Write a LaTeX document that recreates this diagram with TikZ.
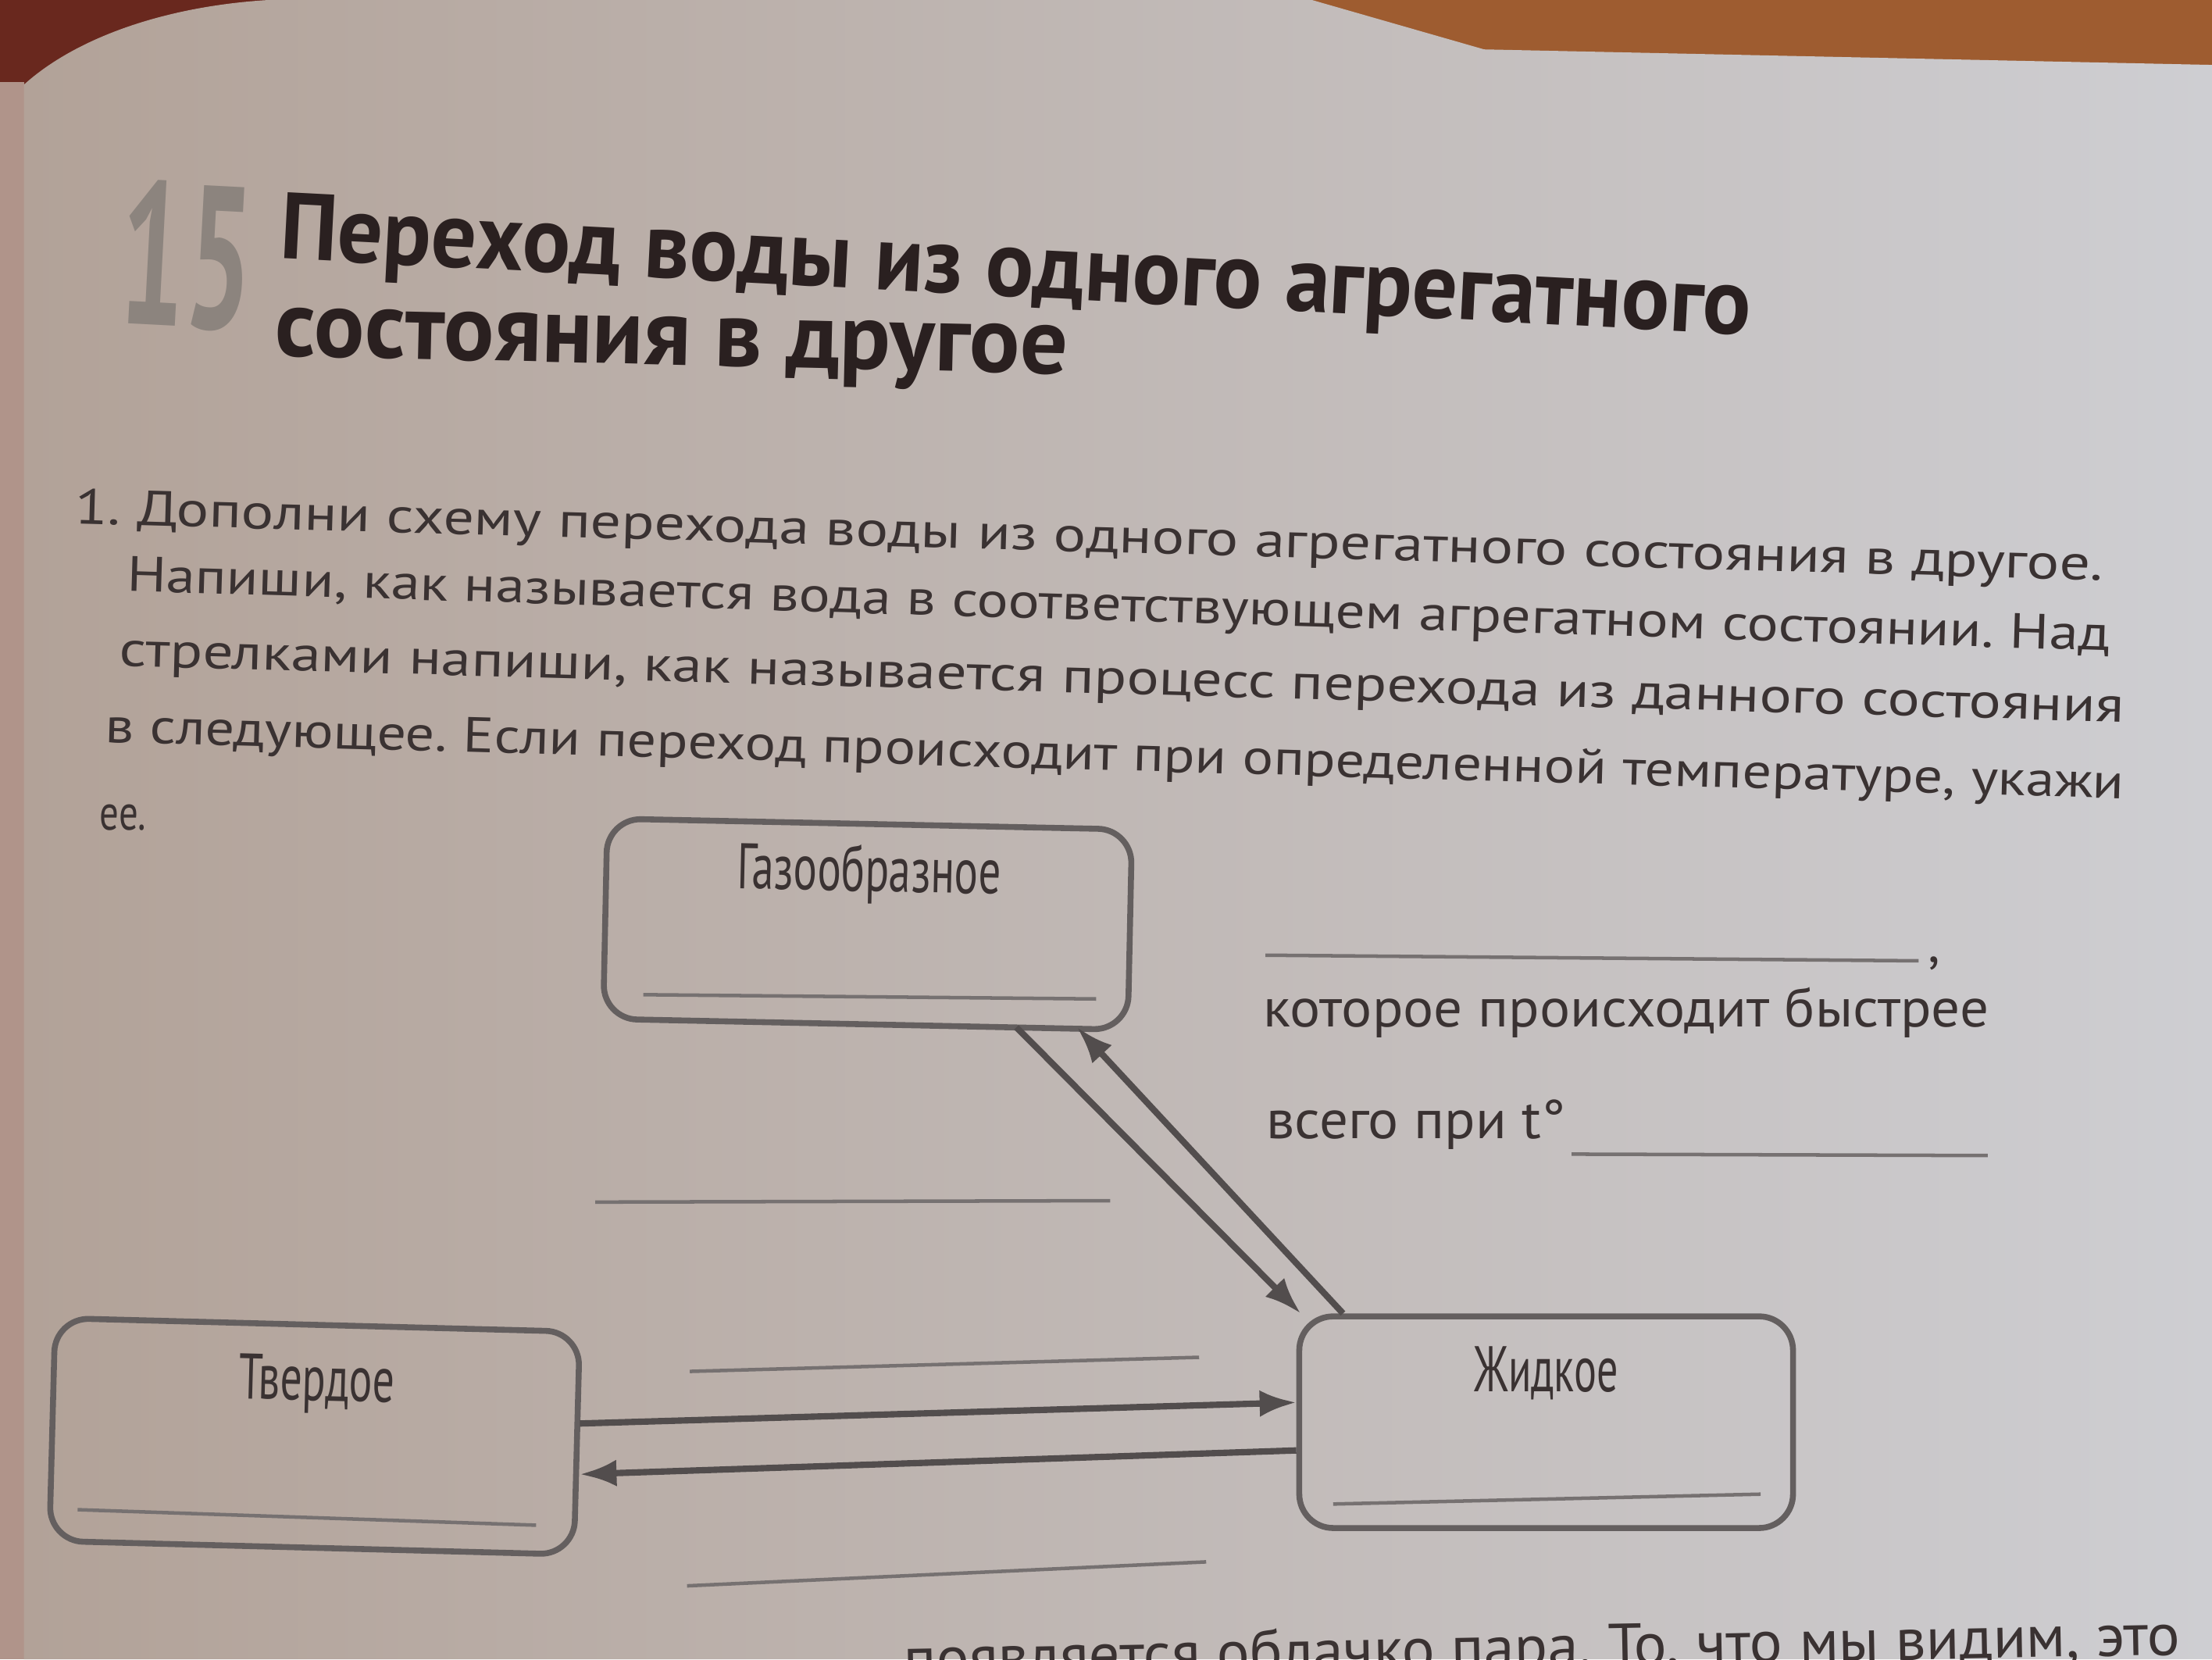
\documentclass[tikz,border=0pt]{standalone}
\usepackage{fontspec}
\setmainfont{PT Sans}
\usepackage{graphicx}
\usetikzlibrary{positioning, arrows.meta}

\definecolor{ink}{RGB}{58,50,50}
\definecolor{titleink}{RGB}{42,32,32}
\definecolor{numgrey}{RGB}{140,132,126}
\definecolor{boxgrey}{RGB}{100,95,95}
\definecolor{arrowgrey}{RGB}{82,77,77}
\definecolor{linegrey}{RGB}{118,113,113}
\definecolor{wood}{RGB}{158,92,48}
\definecolor{darkwood}{RGB}{105,40,30}
\definecolor{pageL}{RGB}{178,162,152}
\definecolor{pageM}{RGB}{193,191,193}
\definecolor{pageR}{RGB}{206,206,210}
\definecolor{leftpage}{RGB}{176,148,138}

% squeeze a line of text to a given width, keep its height
\newcommand{\fitw}[2]{\resizebox{#1}{\height}{#2}}

% printed lines run slightly downhill in the photo: set them word by word
% measured outside the picture: #1 name, #2 width, #3 drop, #4 font, #5 words
\newlength{\wlen}
\newcommand{\prepline}[5]{%
  \gdef\wsum{0}\gdef\wnum{0}%
  \foreach \w in {#5}{%
    \settowidth{\wlen}{#4\w}%
    \pgfmathsetmacro{\tmp}{\wsum+\wlen}\xdef\wsum{\tmp}%
    \pgfmathsetmacro{\tmp}{\wnum+1}\xdef\wnum{\tmp}}%
  \settowidth{\wlen}{#4\ }\xdef\wsp{\the\wlen}%
  \pgfmathsetmacro{\tmp}{#2/(\wsum+(\wnum-1)*\wsp)}\xdef\wfac{\tmp}%
  \expandafter\xdef\csname #1@fac\endcsname{\wfac}%
  \pgfmathsetmacro{\tmp}{-atan(#3)}%
  \expandafter\xdef\csname #1@rot\endcsname{\tmp}%
  \gdef\woff{0}\gdef\witems{}%
  \foreach \w in {#5}{%
    \settowidth{\wlen}{#4\w}%
    \pgfmathsetmacro{\wy}{-(\woff)*(#3)}%
    \ifx\witems\empty\xdef\witems{\woff/\wy/{\w}}\else\xdef\witems{\witems,\woff/\wy/{\w}}\fi
    \pgfmathsetmacro{\tmp}{\woff+(\wlen+\wsp)*\wfac}\xdef\woff{\tmp}}%
  \expandafter\xdef\csname #1@items\endcsname{\witems}%
}
% drawn in the picture: #1 name, #2 start, #3 font, #4 keys
\newcommand{\drawline}[4]{%
  \coordinate (#1) at #2;
  \edef\witems{\csname #1@items\endcsname}%
  \edef\wfac{\csname #1@fac\endcsname}%
  \edef\wrot{\csname #1@rot\endcsname}%
  \foreach \x/\y/\w [count=\i] in \witems {%
    \node[txt, font=#3, rotate=\wrot, #4] (#1-\i) at ([xshift=\x pt, yshift=\y pt]#1) {\scalebox{\wfac}[1]{\w}};}%
}

\tikzset{
  statebox/.style={draw=boxgrey, line width=0.42mm, rounded corners=2.4mm, minimum width=37.2mm, inner sep=0pt},
  statename/.style={text=ink, font=\fontsize{13}{15}\selectfont, inner sep=0pt},
  txt/.style={anchor=base west, inner sep=0pt, text=ink, font=\fontsize{10}{12}\selectfont},
  blank/.style={draw=linegrey, line width=0.25mm},
  trans/.style={draw=arrowgrey, line width=0.45mm, -{Latex[length=2.6mm, width=1.9mm]}},
}

\begin{document}
\prepline{title1}{104.3mm}{0.052}{\fontsize{19}{22}\bfseries}{Переход,воды,из,одного,агрегатного}%
\prepline{title2}{56.2mm}{0.023}{\fontsize{19}{22}\bfseries}{состояния,в,другое}%
\prepline{task1}{143.8mm}{0.028}{\fontsize{10}{12}\selectfont}{1.,Дополни,схему,перехода,воды,из,одного,агрегатного,состояния,в,другое.}%
\prepline{task2}{140.6mm}{0.030}{\fontsize{10}{12}\selectfont}{{Напиши,},как,называется,вода,в,соответствующем,агрегатном,состоянии.,Над}%
\prepline{task3}{142.1mm}{0.028}{\fontsize{10}{12}\selectfont}{стрелками,{напиши,},как,называется,процесс,перехода,из,данного,состояния}%
\prepline{task4}{143.1mm}{0.028}{\fontsize{10}{12}\selectfont}{в,следующее.,Если,переход,происходит,при,определенной,{температуре,},укажи}%
\prepline{next}{90.5mm}{-0.019}{\fontsize{12}{14}\selectfont}{появляется,облачко,{пара.},{То,},что,мы,{видим,},это}%
\begin{tikzpicture}[x=0.1mm, y=-0.1mm]
\useasboundingbox (0,0) rectangle (1568,1176);
\clip (0,0) rectangle (1568,1176);

% table and pages
\fill[wood] (0,0) rectangle (1568,1176);
\fill[darkwood] (0,0) -- (200,0) -- (20,60) -- (0,60) -- cycle;
\fill[leftpage] (0,58) rectangle (17,1176);
\shade[left color=pageL, middle color=pageM, right color=pageR]
  (17,60) .. controls (50,30) and (110,5) .. (190,0) -- (930,0) -- (1052,35) -- (1568,46) -- (1568,1176) -- (17,1176) -- cycle;

% heading
\node[txt, text=numgrey, font=\fontsize{41}{44}\bfseries, rotate=-3] (num) at (82,229) {\fitw{9.4mm}{15}};
\drawline{title1}{(197,183)}{\fontsize{19}{22}\bfseries}{text=titleink}
\drawline{title2}{(194,252)}{\fontsize{19}{22}\bfseries}{text=titleink}

% task text
\drawline{task1}{(52,371)}{\fontsize{10}{12}\selectfont}{}
\drawline{task2}{(89,419)}{\fontsize{10}{12}\selectfont}{}
\drawline{task3}{(84,472)}{\fontsize{10}{12}\selectfont}{}
\drawline{task4}{(74,526)}{\fontsize{10}{12}\selectfont}{}
\node[txt] (task5) at (70,588) {\fitw{3.3mm}{ее.}};

% state boxes
\node[statebox, minimum height=14.2mm, rotate=-1.2] (gas) at (615,655) {};
\node[statebox, minimum height=15.8mm, rotate=-1.5] (solid) at (223,1018) {};
\node[statebox, minimum width=35mm, minimum height=15mm] (liquid) at (1096,1008) {};

\node[statename, rotate=-1.2, below=1.6mm of gas.north] (gastxt) {\fitw{18.7mm}{Газообразное}};
\node[statename, rotate=-1.5, below=2.3mm of solid.north] (solidtxt) {\fitw{11mm}{Твердое}};
\node[statename, below=2.3mm of liquid.north] (liquidtxt) {\fitw{10.2mm}{Жидкое}};

% answer lines in the boxes
\draw[blank] (456,705) -- (777,708);
\draw[blank] (55,1070) -- (380,1081);
\draw[blank] (945,1066) -- (1248,1059);

% transitions
\draw[trans] ([xshift=10.7mm]gas.south) -- ([xshift=-17.4mm]liquid.north);
\draw[trans] ([xshift=-14.4mm]liquid.north) -- ([xshift=15mm]gas.south);
\draw[trans] ([yshift=1.4mm]solid.east) -- ([yshift=1.4mm]liquid.west);
\draw[trans] ([yshift=-2mm]liquid.west) -- ([yshift=-2.2mm]solid.east);

% answer lines over the arrows
\draw[blank] (422,852) -- (787,851);
\draw[blank] (489,972) -- (850,962);
\draw[blank] (487,1124) -- (855,1107);

% note on the right
\draw[blank] (897,677) -- (1360,681);
\node[txt, font=\fontsize{11}{13}\selectfont] (comma) at (1366,682) {,};
\node[txt, font=\fontsize{11}{13}\selectfont] (fast) at (895,728) {\fitw{51.4mm}{которое происходит быстрее}};
\node[txt, font=\fontsize{11}{13}\selectfont] (temp) at (897,807) {\fitw{21.2mm}{всего при t°}};
\draw[blank] (1114,818) -- (1409,819);

% next task, cut by the photo
\drawline{next}{(640,1190)}{\fontsize{12}{14}\selectfont}{}
\end{tikzpicture}
\end{document}
